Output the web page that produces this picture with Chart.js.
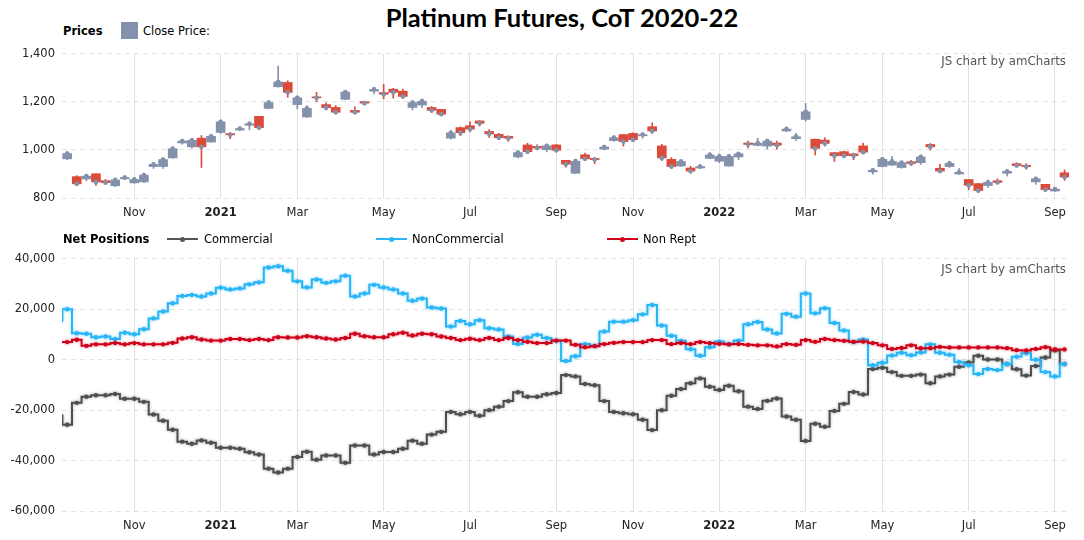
<!DOCTYPE html>
<html>
<head>
<meta charset="utf-8">
<script src="https://cdn.jsdelivr.net/npm/chart.js@4"></script>
<style>
  html,body{margin:0;padding:0;background:#fff;}
  body{width:1084px;height:540px;overflow:hidden;position:relative;font-family:'DejaVu Sans',Verdana,sans-serif;color:#000;}
  .abs{position:absolute;white-space:nowrap;}
  canvas{position:absolute;left:0;}
  #title{left:0;width:1124px;top:1px;text-align:center;font-family:Lato,'DejaVu Sans',sans-serif;font-weight:700;font-size:25.5px;line-height:32px;color:#000;}
  .lg{font-size:11.5px;line-height:14px;}
  .b{font-weight:bold;}
  .wm{font-size:11.8px;line-height:14px;color:#555;right:18px;}
  .ln{height:2px;width:31px;}
  .dot{width:5px;height:5px;border-radius:50%;}
</style>
</head>
<body>
<canvas id="c1" width="1084" height="185" style="top:40px"></canvas>
<canvas id="c2" width="1084" height="295" style="top:245px"></canvas>

<div id="title" class="abs">Platinum Futures, CoT 2020-22</div>

<div class="abs lg b" style="left:63px;top:24px">Prices</div>
<div class="abs" style="left:121px;top:22px;width:17px;height:17px;background:#8391ab"></div>
<div class="abs lg" style="left:143px;top:24px">Close Price:</div>
<div class="abs wm" style="top:54px">JS chart by amCharts</div>

<div class="abs lg b" style="left:63px;top:232px">Net Positions</div>
<div class="abs ln" style="left:167px;top:238px;background:#555"></div>
<div class="abs dot" style="left:180px;top:236.5px;background:#555"></div>
<div class="abs lg" style="left:204px;top:232px">Commercial</div>
<div class="abs ln" style="left:376px;top:238px;background:#29b6f6"></div>
<div class="abs dot" style="left:389px;top:236.5px;background:#29b6f6"></div>
<div class="abs lg" style="left:412px;top:232px">NonCommercial</div>
<div class="abs ln" style="left:607px;top:238px;background:#d0021b"></div>
<div class="abs dot" style="left:620px;top:236.5px;background:#d0021b"></div>
<div class="abs lg" style="left:643px;top:232px">Non Rept</div>
<div class="abs wm" style="top:262px">JS chart by amCharts</div>

<script>
// ---------- DATA ----------
const dates = [
 '2020-09-08','2020-09-15','2020-09-22','2020-09-29','2020-10-06','2020-10-13','2020-10-20','2020-10-27',
 '2020-11-03','2020-11-10','2020-11-17','2020-11-24','2020-12-01','2020-12-08','2020-12-15','2020-12-22','2020-12-29',
 '2021-01-05','2021-01-12','2021-01-19','2021-01-26','2021-02-02','2021-02-09','2021-02-16','2021-02-23',
 '2021-03-02','2021-03-09','2021-03-16','2021-03-23','2021-03-30','2021-04-06','2021-04-13','2021-04-20','2021-04-27',
 '2021-05-04','2021-05-11','2021-05-18','2021-05-25','2021-06-01','2021-06-08','2021-06-15','2021-06-22','2021-06-29',
 '2021-07-06','2021-07-13','2021-07-20','2021-07-27','2021-08-03','2021-08-10','2021-08-17','2021-08-24','2021-08-31',
 '2021-09-07','2021-09-14','2021-09-21','2021-09-28','2021-10-05','2021-10-12','2021-10-19','2021-10-26',
 '2021-11-02','2021-11-09','2021-11-16','2021-11-23','2021-11-30','2021-12-07','2021-12-14','2021-12-21','2021-12-28',
 '2022-01-04','2022-01-11','2022-01-18','2022-01-25','2022-02-01','2022-02-08','2022-02-15','2022-02-22','2022-03-01',
 '2022-03-08','2022-03-15','2022-03-22','2022-03-29','2022-04-05','2022-04-12','2022-04-19','2022-04-26',
 '2022-05-03','2022-05-10','2022-05-17','2022-05-24','2022-05-31','2022-06-07','2022-06-14','2022-06-21','2022-06-28',
 '2022-07-05','2022-07-12','2022-07-19','2022-07-26','2022-08-02','2022-08-09','2022-08-16','2022-08-23','2022-08-30',
 '2022-09-06','2022-09-13'
];

const tickDates  = ['2020-11-03','2021-01-05','2021-03-02','2021-05-04','2021-07-06','2021-09-07',
                    '2021-11-02','2022-01-04','2022-03-08','2022-05-03','2022-07-05','2022-09-06'];
const tickLabels = ['Nov','2021','Mar','May','Jul','Sep','Nov','2022','Mar','May','Jul','Sep'];

const priceTicks = [800, 1000, 1200, 1400];
const positionTicks = [-60000, -40000, -20000, 0, 20000, 40000];

const priceOpen = [null,963,889,879,901,872,851,880,863,867,931,931,967,1029,1013,1049,1033,1073,1068,1083,1103,1140,1173,1263,1281,1189,1137,1221,1189,1177,1211,1165,1201,1245,1239,1253,1245,1177,1187,1177,1169,1049,1093,1101,1121,1077,1065,1057,971,1021,1015,1001,1021,957,903,980,965,1003,1039,1064,1069,1059,1097,1017,961,933,925,925,965,953,933,971,1029,1019,1016,1029,1079,1047,1127,1045,1041,989,993,984,1017,909,931,937,927,951,947,1023,924,931,900,877,860,852,872,903,943,936,867,857,829,905];
const priceHigh = [null,993,893,897,901,877,881,893,885,901,947,967,1013,1045,1048,1060,1065,1125,1073,1096,1117,1140,1207,1349,1288,1225,1184,1240,1196,1185,1245,1180,1203,1260,1273,1257,1253,1205,1212,1181,1169,1081,1096,1117,1123,1085,1069,1059,997,1028,1021,1024,1024,957,960,987,969,1020,1059,1064,1071,1072,1113,1024,968,957,932,940,989,983,980,989,1037,1049,1045,1037,1097,1069,1193,1045,1051,989,995,987,1028,923,967,973,953,957,979,1027,940,953,923,877,861,875,880,917,947,943,887,857,841,917];
const priceLow = [null,959,853,872,852,859,847,877,861,864,923,923,965,1024,1007,927,1032,1069,1047,1081,1084,1091,1171,1261,1219,1171,1135,1200,1167,1151,1209,1151,1187,1233,1213,1216,1216,1167,1176,1156,1143,1045,1059,1075,1099,1052,1043,1036,967,987,1005,992,991,928,901,956,943,1000,1036,1016,1036,1049,1069,956,923,932,903,923,963,947,933,960,1009,1017,1004,1003,1076,1040,1120,979,1016,952,968,959,984,899,929,936,924,936,940,999,905,927,899,835,823,844,860,891,931,920,857,827,827,873];
const priceClose = [null,985,859,891,867,864,875,885,877,895,940,960,1005,1037,1040,1013,1057,1117,1063,1089,1109,1093,1197,1283,1240,1217,1173,1217,1176,1157,1241,1157,1195,1252,1232,1240,1223,1197,1203,1165,1149,1071,1072,1087,1111,1067,1051,1049,989,993,1008,1017,999,941,953,963,960,1012,1051,1035,1043,1064,1079,967,931,952,912,931,979,973,973,984,1023,1028,1037,1020,1087,1055,1159,1007,1027,976,976,976,991,915,961,952,947,944,971,1013,912,944,907,853,831,865,865,911,935,931,880,835,837,887];

const commercial = [-22100,-25800,-17100,-14700,-14100,-14100,-13600,-15500,-15500,-16700,-21700,-24200,-27800,-32500,-33300,-32000,-32900,-34900,-34900,-35300,-36700,-37600,-43200,-44700,-43200,-38600,-36500,-39700,-38000,-38000,-40900,-34000,-34000,-37600,-36600,-36600,-35300,-32100,-33300,-29700,-28600,-20700,-21600,-20700,-22200,-20000,-18600,-16400,-12900,-14700,-14700,-13700,-13200,-6100,-6600,-9600,-10100,-16400,-20700,-21200,-21600,-23800,-27900,-20000,-14300,-11600,-9300,-7400,-10700,-12000,-10300,-12500,-18600,-19500,-16300,-15400,-22500,-23800,-32200,-25400,-26600,-20300,-17500,-12800,-13800,-3700,-3200,-4900,-6400,-6400,-5900,-9300,-6600,-5900,-2800,-1100,1600,100,100,-1700,-3800,-6300,-2500,900,3700,-1700];
const nonCommercial = [15500,20000,10500,10300,8900,9200,8200,10700,10100,12100,16400,19100,22400,25300,25700,25100,26300,28600,27900,28300,29900,30700,36600,37100,35300,31100,28700,31800,30500,31100,33300,25100,26300,29700,28700,27900,26300,23400,24300,20700,20300,13200,15400,14100,15700,12500,12000,9200,6200,8800,9900,8600,7500,-500,1400,6200,5500,11200,15100,15100,15700,18000,21700,13600,9500,7500,4200,1600,5000,7200,6200,7600,14100,15000,12000,10400,18200,17100,26300,18400,20400,14600,11600,7000,8000,-2200,-1200,1700,2800,1800,2900,6100,2800,2000,-900,-2200,-5700,-3700,-4100,-1700,1200,2600,0,-4900,-6600,-1700];
const nonRept = [7000,7000,7900,5500,6100,6100,6600,6100,6600,6100,6100,6100,6700,8400,8900,8000,7600,7600,8200,8200,7800,8200,7800,8900,8800,8800,9300,8900,8400,8000,8600,10300,9300,8900,8900,10100,10700,9600,10300,10100,9200,8600,7800,8300,7800,8600,7800,8600,7800,7100,6600,6600,7600,7600,5900,5000,5400,6200,6700,7000,7000,7000,7800,7800,6200,6600,6200,7000,6600,6300,6100,6200,5900,5700,5700,5300,6200,5900,7800,7100,8200,7800,7500,7100,7200,6600,5700,4300,4700,5700,4600,4600,5100,4900,4900,4900,4900,4900,4900,4600,3800,3700,4300,5000,4100,4100];

// ---------- STYLE ----------
const FONT = "'DejaVu Sans', Verdana, sans-serif";
const FS = 11.5;
const UP = '#8391ab', DOWN = '#dc4a3a';
const fmt = v => String(v).replace(/\B(?=(\d{3})+(?!\d))/g, ',');

const glowPlugin = {
  id: 'glow',
  beforeDatasetDraw(chart, args) {
    const ds = chart.data.datasets[args.index];
    chart.ctx.save();
    if (ds.glow) { chart.ctx.shadowColor = ds.glow; chart.ctx.shadowBlur = 3; }
  },
  afterDatasetDraw(chart) { chart.ctx.restore(); }
};

function xScale(h) {
  return {
    type: 'linear', min: 0.46, max: 105.46, offset: false,
    afterBuildTicks(s) { s.ticks = tickDates.map(d => ({ value: dates.indexOf(d) })); },
    afterFit(s) { s.height = h; },
    grid: { color: '#e2e2e2', lineWidth: 1, drawTicks: false, offset: false },
    border: { display: false },
    ticks: {
      autoSkip: false, maxRotation: 0, minRotation: 0, padding: 8, color: '#222',
      font: c => ({ family: FONT, size: FS, weight: /^\d{4}$/.test(tickLabels[c.index]) ? 'bold' : 'normal' }),
      callback: (v, i) => tickLabels[i]
    }
  };
}
function yScale(min, max, ticks) {
  return {
    type: 'linear', min, max,
    afterBuildTicks(s) { s.ticks = ticks.map(v => ({ value: v })); },
    afterFit(s) { s.width = 62; },
    grid: { color: '#e4e4e4', lineWidth: 1, drawTicks: false },
    border: { display: false, dash: [5, 4] },
    ticks: { padding: 7, color: '#222', font: { family: FONT, size: FS }, callback: v => fmt(v) }
  };
}

// ---------- TOP: candlesticks ----------
const idx = dates.map((d, i) => i).filter(i => priceOpen[i] !== null);
const candleColor = i => (priceClose[i] >= priceOpen[i] ? UP : DOWN);

new Chart(document.getElementById('c1'), {
  type: 'bar',
  data: {
    datasets: [
      { type: 'line', label: 'Close', data: idx.map(i => ({ x: i, y: priceClose[i] })), showLine: false,
        pointRadius: 2.4, pointBackgroundColor: UP, pointBorderWidth: 0, order: 0 },
      { type: 'bar', label: 'Body', data: idx.map(i => ({ x: i, y: [priceOpen[i], priceClose[i]] })),
        backgroundColor: idx.map(candleColor), barThickness: 9, grouped: false, borderWidth: 0, order: 1 },
      { type: 'bar', label: 'Wick', data: idx.map(i => ({ x: i, y: [priceLow[i], priceHigh[i]] })),
        backgroundColor: idx.map(candleColor), barThickness: 1, grouped: false, borderWidth: 0, order: 2 }
    ]
  },
  options: {
    responsive: false, animation: false, events: [],
    layout: { padding: { top: 8, right: 15, left: 0, bottom: 0 } },
    plugins: { legend: { display: false }, tooltip: { enabled: false } },
    scales: { x: xScale(27), y: yScale(800, 1400, priceTicks) }
  }
});

// ---------- BOTTOM: net positions ----------
function series(label, values, color, glow, order) {
  return {
    label, data: values.map((v, i) => ({ x: i, y: v })), stepped: 'middle',
    borderColor: color, backgroundColor: color, borderWidth: 2,
    pointRadius: 2.2, pointBackgroundColor: color, pointBorderWidth: 0,
    glow, order, clip: 0
  };
}
new Chart(document.getElementById('c2'), {
  type: 'line',
  data: {
    datasets: [
      series('Commercial', commercial, '#4f4f4f', 'rgba(79,79,79,0.45)', 2),
      series('NonCommercial', nonCommercial, '#29b6f6', 'rgba(41,182,246,0.5)', 1),
      series('Non Rept', nonRept, '#d0021b', 'rgba(208,2,27,0.4)', 0)
    ]
  },
  options: {
    responsive: false, animation: false, events: [],
    layout: { padding: { top: 12, right: 15, left: 0, bottom: 0 } },
    plugins: { legend: { display: false }, tooltip: { enabled: false } },
    scales: { x: xScale(29), y: yScale(-60000, 40000, positionTicks) }
  },
  plugins: [glowPlugin]
});
</script>
</body>
</html>
